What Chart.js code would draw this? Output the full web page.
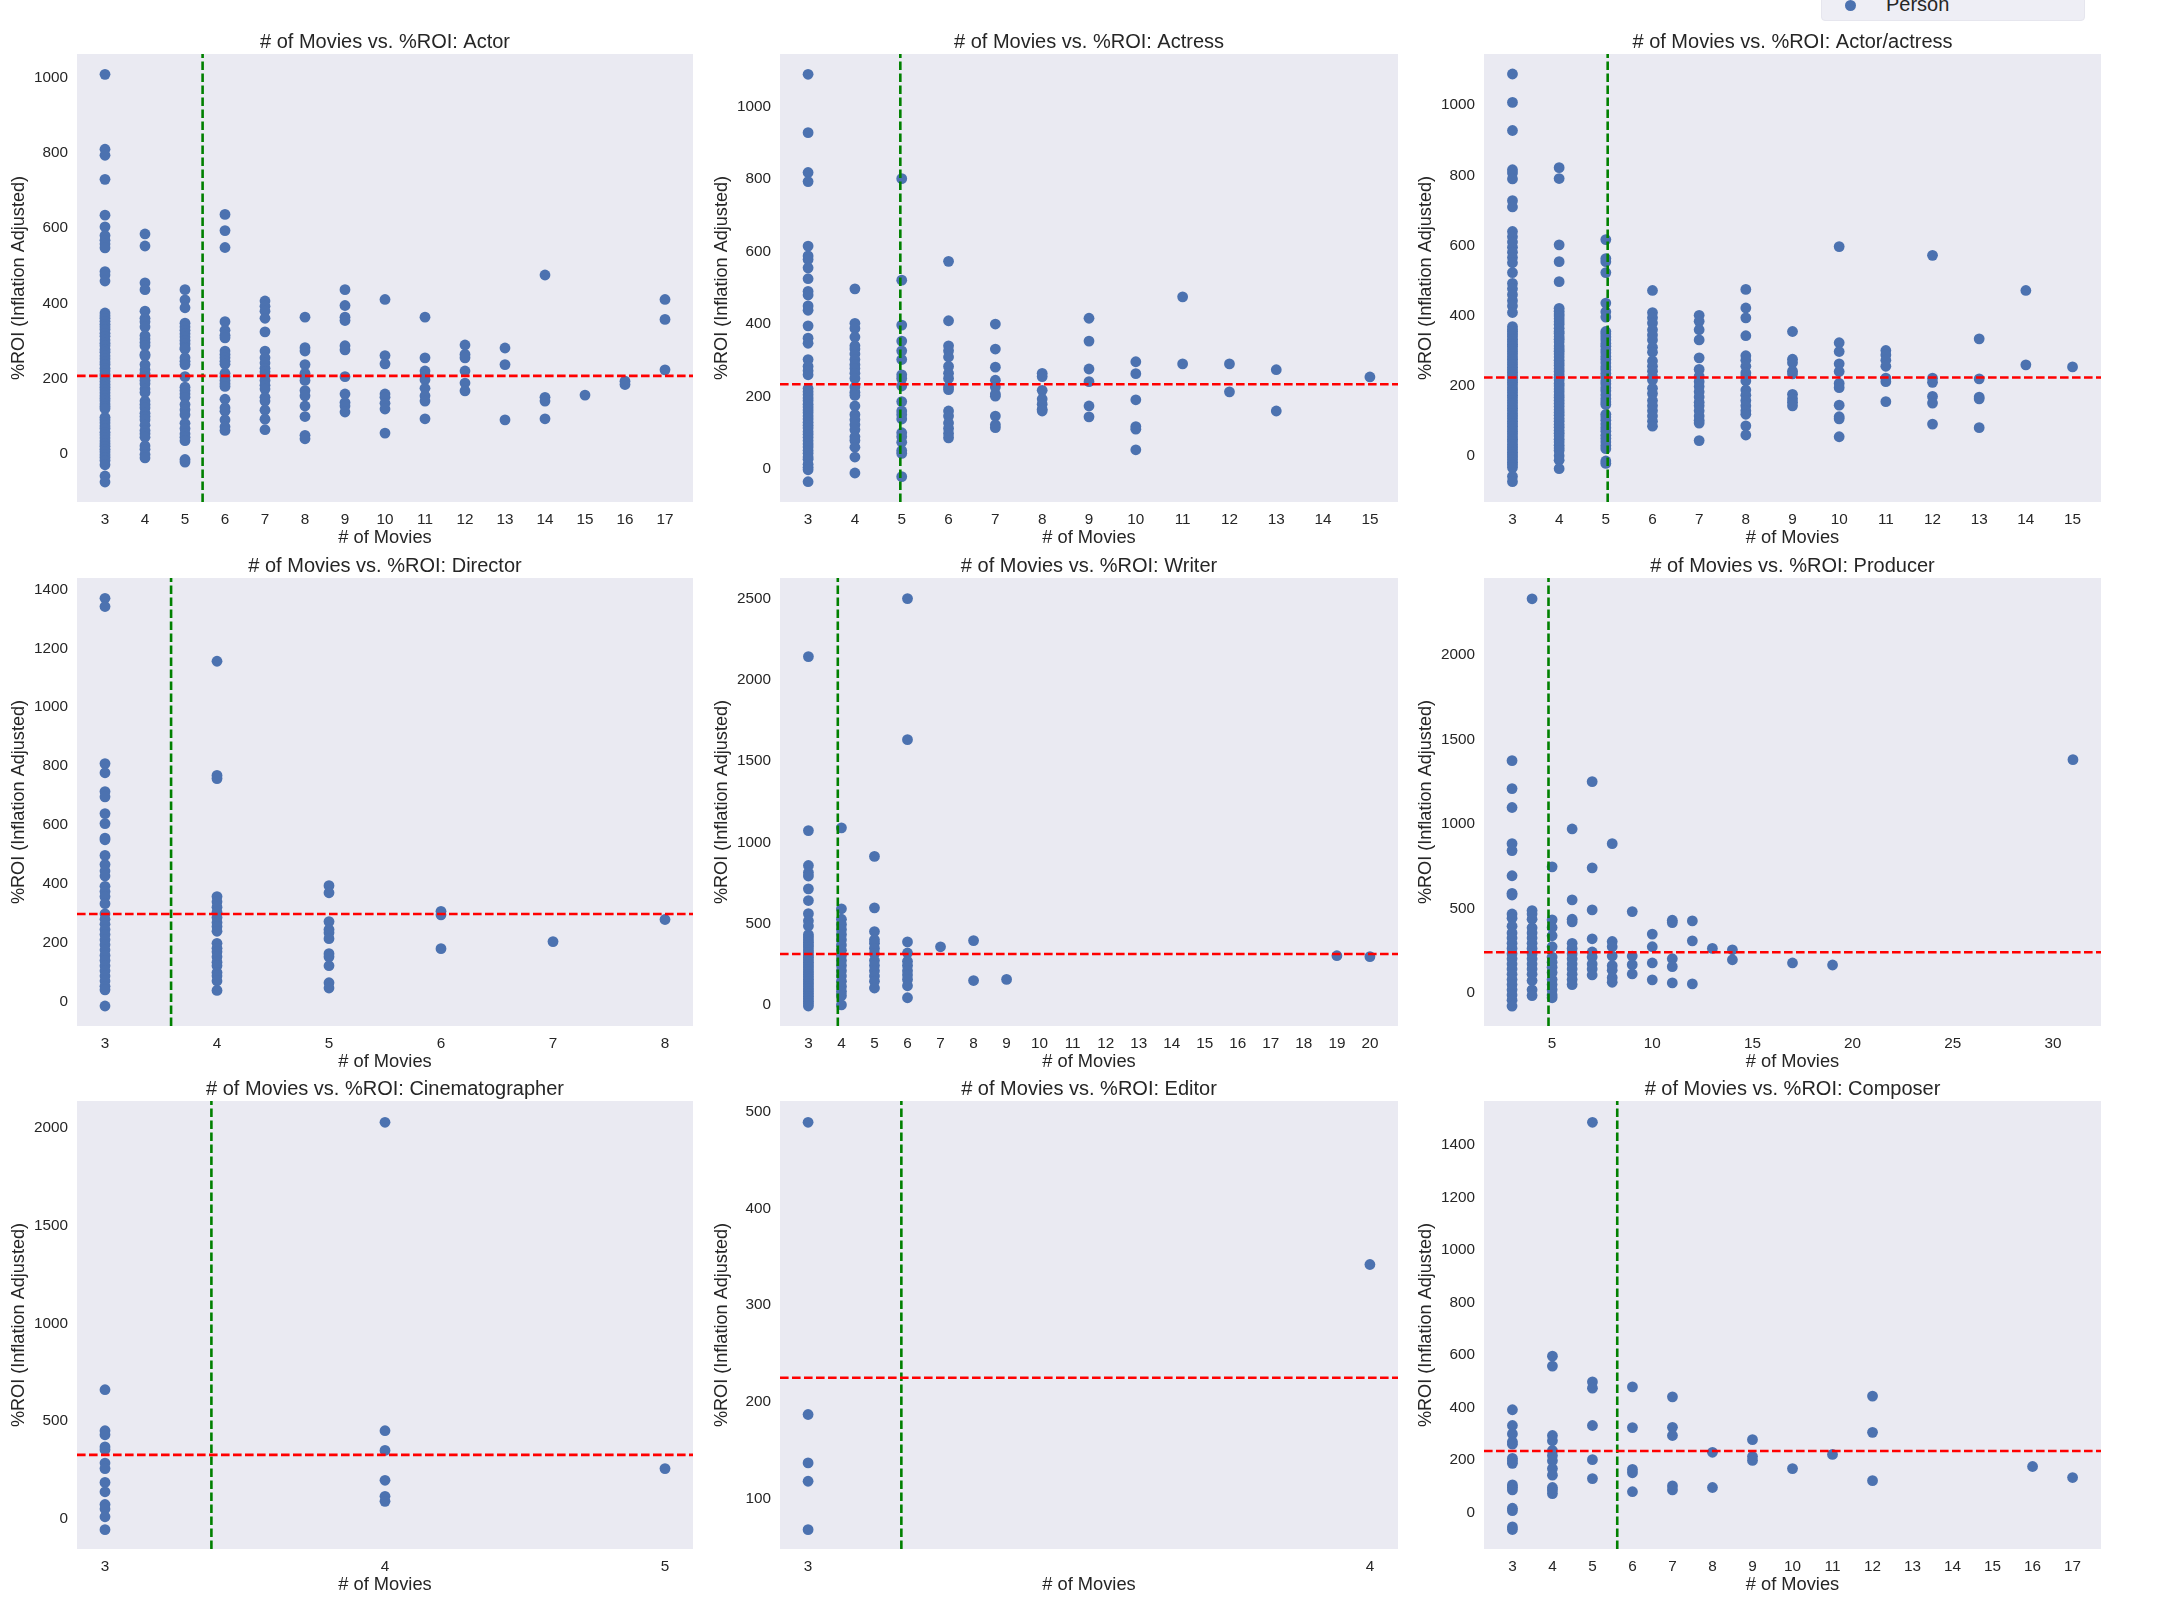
<!DOCTYPE html>
<html>
<head>
<meta charset="utf-8">
<script src="https://cdn.jsdelivr.net/npm/chart.js@4/dist/chart.umd.min.js"></script>
<style>
html,body{margin:0;padding:0;background:#fff;width:2160px;height:1620px;overflow:hidden;position:relative}
canvas{position:absolute}
#legend{position:absolute;left:1821px;top:-20px;width:264px;height:41px;background:#eeeef5;border:1px solid #e6e6ee;border-radius:4px;box-sizing:border-box}
#legend i{position:absolute;left:23px;top:19px;width:11px;height:11px;border-radius:50%;background:#4c72b0}
#legend span{position:absolute;left:64px;top:11px;font:20px/24px "Liberation Sans",Arial,sans-serif;color:#262626}
</style>
</head>
<body>
<div id="legend"><i></i><span>Person</span></div>
<script>
// ---- Data: one list of %ROI values for each # of Movies ----
const actorCounts = [3,4,5,6,7,8,9,10,11,12,13,14,15,16,17];
const actorRoi = [
 [1006,807,791,727,632,601,578,565,555,545,482,473,457,372,365,358,350,342,335,328,318,310,300,292,285,275,268,258,250,242,235,225,218,210,205,198,190,182,175,168,160,152,145,138,130,124,118,95,88,80,72,65,55,48,40,32,25,18,10,3,-5,-12,-20,-31,-61,-77],
 [582,550,452,434,377,358,349,335,312,303,294,285,262,258,235,221,212,203,193,184,170,161,138,129,120,106,97,88,74,60,51,42,19,10,-4,-13],
 [434,407,386,345,335,326,317,308,299,290,280,276,253,244,235,203,175,166,157,148,129,115,102,79,65,51,42,33,-17,-24],
 [634,591,546,349,326,313,306,271,262,253,244,236,212,203,193,184,177,143,120,111,88,70,60],
 [404,390,377,358,322,271,253,239,225,216,207,193,180,170,148,138,114,90,62],
 [361,280,271,235,212,203,193,166,152,125,97,47,38],
 [434,392,361,352,285,274,203,157,134,125,109],
 [408,259,237,157,148,132,117,53],
 [361,253,218,207,195,172,152,138,91],
 [287,262,253,218,186,165],
 [279,235,88],
 [473,148,138,91],
 [154],
 [191,182],
 [408,355,221]
];
const actorMean = 205, actorCut = 5.44;
const actorXTicks = [3,4,5,6,7,8,9,10,11,12,13,14,15,16,17];
const actorYTicks = [0,200,400,600,800,1000];
const actorRange = [2.3,17.7,-130,1060];

const actressCounts = [3,4,5,6,7,8,9,10,11,12,13,15];
const actressRoi = [
 [1086,925,815,790,612,585,575,552,522,487,477,447,435,392,358,344,299,280,268,257,219,210,202,193,185,176,168,160,152,143,135,126,118,110,100,92,84,75,66,58,48,40,30,24,10,2,-5,-38],
 [494,399,385,361,337,328,314,299,285,274,261,247,223,209,200,171,147,133,119,105,86,76,57,30,-14],
 [798,518,394,350,323,299,257,247,226,183,157,147,135,97,86,71,48,40,-24],
 [570,406,337,323,306,280,261,247,223,216,157,143,124,109,95,83],
 [397,328,278,242,223,204,198,143,119,111],
 [261,252,214,190,176,162,157],
 [413,350,273,238,171,141],
 [293,260,188,114,107,50],
 [472,287],
 [287,210],
 [271,157],
 [251]
];
const actressMean = 231, actressCut = 4.97;
const actressXTicks = [3,4,5,6,7,8,9,10,11,12,13,14,15];
const actressYTicks = [0,200,400,600,800,1000];
const actressRange = [2.4,15.6,-94,1142];

const bothCounts = [3,4,5,6,7,8,9,10,11,12,13,14,15];
const bothRoi = [
 [1086,1005,925,813,804,787,725,707,637,622,607,592,578,563,548,520,489,474,457,440,425,406,366,358,352,345,338,330,323,316,310,302,295,288,280,273,265,258,250,243,236,228,221,214,207,200,192,185,178,170,163,155,148,140,133,126,118,111,104,96,89,82,74,67,60,52,45,38,30,23,16,8,1,-6,-13,-21,-28,-36,-61,-76],
 [819,788,599,551,494,418,410,402,396,388,380,372,361,352,346,337,330,322,311,303,296,288,279,270,262,255,246,238,229,221,214,204,197,188,180,171,164,155,147,138,129,121,113,104,96,87,79,70,62,54,45,37,28,20,13,-2,-15,-39],
 [614,560,551,520,433,408,393,352,345,337,328,318,310,300,291,281,272,262,251,243,232,222,211,203,192,183,171,160,151,144,116,108,99,88,78,68,56,47,37,27,18,-17,-24],
 [469,406,391,376,357,342,328,307,293,268,253,239,224,214,190,175,155,140,126,111,96,82],
 [398,381,357,328,277,244,224,209,195,180,165,150,140,126,111,99,91,41],
 [472,419,391,340,283,270,253,234,224,211,185,170,155,140,126,116,83,57],
 [352,273,263,239,231,173,160,150,140],
 [594,320,295,260,238,204,192,142,109,103,52],
 [298,285,270,253,219,209,152],
 [569,219,207,167,148,88],
 [331,217,165,160,78],
 [469,257],
 [251]
];
const bothMean = 221, bothCut = 5.04;
const bothXTicks = [3,4,5,6,7,8,9,10,11,12,13,14,15];
const bothYTicks = [0,200,400,600,800,1000];
const bothRange = [2.39,15.61,-134,1143];

const directorCounts = [3,4,5,6,7,8];
const directorRoi = [
 [1367,1339,805,774,710,692,635,601,552,546,493,462,440,423,388,370,353,329,294,276,259,241,224,206,189,171,153,136,118,101,83,66,48,36,-19],
 [1153,765,754,353,335,317,300,282,265,251,235,194,177,165,148,130,118,95,83,66,34],
 [390,366,268,241,230,210,159,148,118,60,42],
 [303,291,176],
 [200],
 [275]
];
const directorMean = 294, directorCut = 3.59;
const directorXTicks = [3,4,5,6,7,8];
const directorYTicks = [0,200,400,600,800,1000,1200,1400];
const directorRange = [2.75,8.25,-87,1436];

const writerCounts = [3,4,5,6,7,8,9,19,20];
const writerRoi = [
 [2138,1066,851,807,786,707,635,554,510,478,425,410,393,378,362,348,330,315,300,285,270,255,240,225,210,195,180,165,150,135,120,105,90,75,60,45,30,15,0,-15],
 [1083,584,520,488,456,425,393,361,329,297,265,234,202,170,138,106,74,49,-8],
 [907,590,444,393,372,340,308,265,234,202,170,138,96],
 [2495,1626,380,312,261,234,202,176,149,110,36],
 [350],
 [388,142],
 [149],
 [295],
 [289]
];
const writerMean = 306, writerCut = 3.89;
const writerXTicks = [3,4,5,6,7,8,9,10,11,12,13,14,15,16,17,18,19,20];
const writerYTicks = [0,500,1000,1500,2000,2500];
const writerRange = [2.14,20.85,-138,2622];

const producerCounts = [3,4,5,6,7,8,9,10,11,12,13,14,17,19,31];
const producerRoi = [
 [1368,1203,1091,877,836,687,583,573,461,436,389,349,318,287,257,226,196,165,135,104,73,43,12,-18,-49,-84],
 [2326,481,461,430,379,349,318,287,257,226,196,165,135,104,67,12,-22],
 [740,426,381,332,267,206,175,145,114,73,43,12,-18,-35],
 [964,544,430,414,287,257,226,196,165,135,104,73,43],
 [1244,734,485,314,236,206,165,135,100],
 [877,298,267,212,155,128,84,57],
 [475,212,161,106],
 [342,267,171,71],
 [424,410,196,149,53],
 [420,302,47],
 [257],
 [249,190],
 [171],
 [159],
 [1374]
];
const producerMean = 234, producerCut = 4.82;
const producerXTicks = [5,10,15,20,25,30];
const producerYTicks = [0,500,1000,1500,2000];
const producerRange = [1.6,32.4,-202,2449];

const cinemaCounts = [3,4,5];
const cinemaRoi = [
 [655,445,424,362,348,279,251,180,132,67,44,4,-62],
 [2025,445,344,191,109,83],
 [251]
];
const cinemaMean = 321, cinemaCut = 3.38;
const cinemaXTicks = [3,4,5];
const cinemaYTicks = [0,500,1000,1500,2000];
const cinemaRange = [2.9,5.1,-161,2134];

const editorCounts = [3,4];
const editorRoi = [
 [488,186,136,117,67],
 [341]
];
const editorMean = 224, editorCut = 3.166;
const editorXTicks = [3,4];
const editorYTicks = [100,200,300,400,500];
const editorRange = [2.95,4.05,47,510];

const composerCounts = [3,4,5,6,7,8,9,10,11,12,16,17];
const composerRoi = [
 [388,328,296,266,257,203,194,184,102,93,83,13,4,-58,-68],
 [592,554,290,270,233,214,194,164,139,92,83,69],
 [1482,494,470,328,198,126],
 [475,320,161,148,76],
 [437,321,290,98,83],
 [226,92],
 [274,210,195],
 [164],
 [218],
 [440,302,118],
 [172],
 [130]
];
const composerMean = 231, composerCut = 5.62;
const composerXTicks = [3,4,5,6,7,8,9,10,11,12,13,14,15,16,17];
const composerYTicks = [0,200,400,600,800,1000,1200,1400];
const composerRange = [2.29,17.71,-142,1563];

const panelTitles = ["Actor","Actress","Actor/actress","Director","Writer","Producer","Cinematographer","Editor","Composer"];

// ---- Layout ----
const colBox = [[77,693],[780,1398],[1484,2101]];
const rowBox = [[54,502],[578,1026],[1101,1549]];
const marginL = 77, marginR = 8, marginT = 27, marginB = 47;
const FONT = '"Liberation Sans", Arial, sans-serif';
const INK = '#262626';

const panelBg = {
  id:'panelBg',
  beforeDraw(chart){
    const a = chart.chartArea, c = chart.ctx;
    c.save(); c.fillStyle = '#eaeaf2';
    c.fillRect(a.left,a.top,a.right-a.left,a.bottom-a.top);
    c.restore();
  }
};

function drawPanel(i, counts, roi, mean, cut, xTicks, yTicks, range){
  const col = colBox[i%3], row = rowBox[Math.floor(i/3)];
  const cv = document.createElement('canvas');
  const w = col[1]-col[0], h = row[1]-row[0];
  cv.width = marginL+w+marginR; cv.height = marginT+h+marginB;
  cv.style.left = (col[0]-marginL)+'px';
  cv.style.top = (row[0]-marginT)+'px';
  cv.style.width = cv.width+'px'; cv.style.height = cv.height+'px';
  document.body.appendChild(cv);
  const points = [];
  counts.forEach((n,k)=>roi[k].forEach(v=>points.push({x:n,y:v})));
  new Chart(cv,{
    type:'scatter',
    data:{datasets:[
      {label:'Mean',data:[{x:range[0],y:mean},{x:range[1],y:mean}],showLine:true,pointRadius:0,
       borderColor:'#ff0000',borderWidth:2.6,borderDash:[8.6,3.4],order:0},
      {label:'Cut',data:[{x:cut,y:range[2]},{x:cut,y:range[3]}],showLine:true,pointRadius:0,
       borderColor:'#008000',borderWidth:2.6,borderDash:[8.6,3.4],order:1},
      {label:'Person',data:points,pointRadius:5.4,pointBackgroundColor:'#4c72b0',pointBorderWidth:0,
       backgroundColor:'#4c72b0',order:2}
    ]},
    options:{
      responsive:false,animation:false,devicePixelRatio:1,
      layout:{autoPadding:false,padding:{left:0,top:0,bottom:0,right:marginR}},
      plugins:{
        legend:{display:false},tooltip:{enabled:false},
        title:{display:true,fullSize:false,text:'# of Movies vs. %ROI: '+panelTitles[i],color:INK,
               padding:{top:4,bottom:0},font:{family:FONT,size:20,weight:'normal',lineHeight:(marginT-4)/20}}
      },
      scales:{
        x:{type:'linear',min:range[0],max:range[1],
           grid:{display:false,drawTicks:false},border:{display:false},
           afterBuildTicks(s){s.ticks = xTicks.map(v=>({value:v}));},
           afterFit(s){s.height = marginB;},
           ticks:{color:INK,font:{family:FONT,size:15.3},padding:9,autoSkip:false,maxRotation:0,callback:v=>String(v)},
           title:{display:true,text:'# of Movies',color:INK,padding:0,font:{family:FONT,size:18.3,lineHeight:1.2}}},
        y:{type:'linear',min:range[2],max:range[3],
           grid:{display:false,drawTicks:false},border:{display:false},
           afterBuildTicks(s){s.ticks = yTicks.map(v=>({value:v}));},
           afterFit(s){s.width = marginL;},
           ticks:{color:INK,font:{family:FONT,size:15.3},padding:9,labelOffset:1,autoSkip:false,callback:v=>String(v)},
           title:{display:true,text:'%ROI (Inflation Adjusted)',color:INK,padding:{top:8,bottom:0},font:{family:FONT,size:18.1,lineHeight:1.2}}}
      }
    },
    plugins:[panelBg]
  });
}

drawPanel(0,actorCounts,actorRoi,actorMean,actorCut,actorXTicks,actorYTicks,actorRange);
drawPanel(1,actressCounts,actressRoi,actressMean,actressCut,actressXTicks,actressYTicks,actressRange);
drawPanel(2,bothCounts,bothRoi,bothMean,bothCut,bothXTicks,bothYTicks,bothRange);
drawPanel(3,directorCounts,directorRoi,directorMean,directorCut,directorXTicks,directorYTicks,directorRange);
drawPanel(4,writerCounts,writerRoi,writerMean,writerCut,writerXTicks,writerYTicks,writerRange);
drawPanel(5,producerCounts,producerRoi,producerMean,producerCut,producerXTicks,producerYTicks,producerRange);
drawPanel(6,cinemaCounts,cinemaRoi,cinemaMean,cinemaCut,cinemaXTicks,cinemaYTicks,cinemaRange);
drawPanel(7,editorCounts,editorRoi,editorMean,editorCut,editorXTicks,editorYTicks,editorRange);
drawPanel(8,composerCounts,composerRoi,composerMean,composerCut,composerXTicks,composerYTicks,composerRange);
</script>
</body>
</html>
